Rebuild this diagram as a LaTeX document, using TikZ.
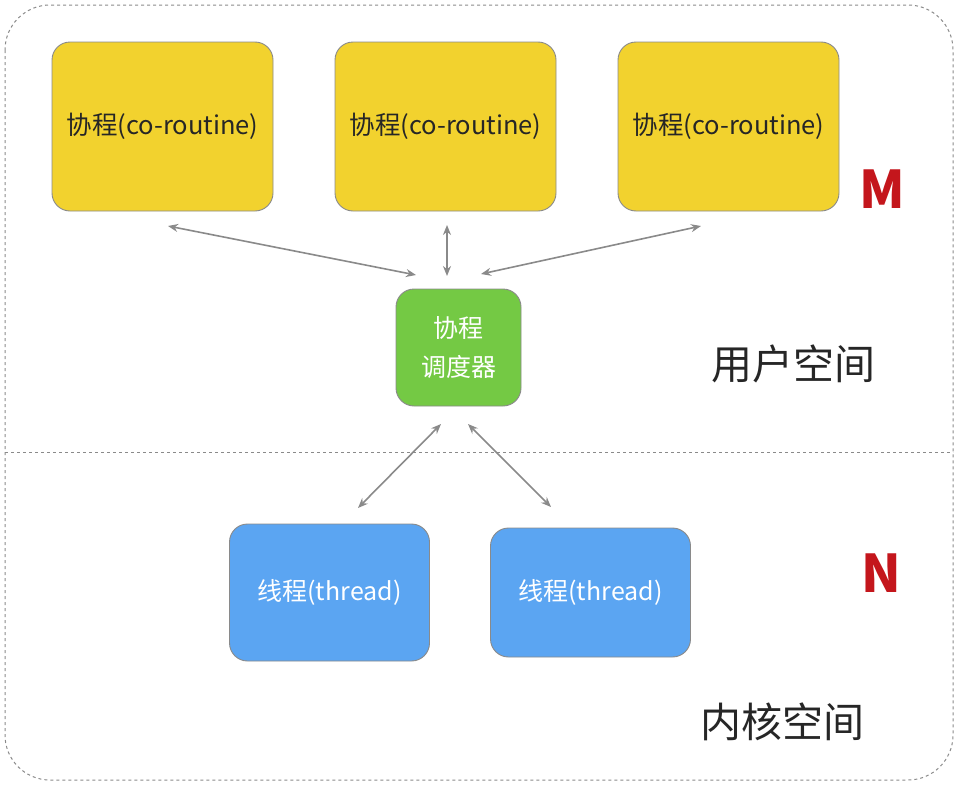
\documentclass[tikz,border=0pt]{standalone}
\usepackage{fontspec}
\setmainfont{Noto Sans CJK SC}
\usetikzlibrary{arrows.meta}
\definecolor{ylw}{HTML}{F2D22E}
\definecolor{grn}{HTML}{74C944}
\definecolor{blu}{HTML}{5BA5F2}
\definecolor{edge}{HTML}{8A8A8A}
\definecolor{mred}{HTML}{C4161C}
\tikzset{
  x=1pt,y=-1pt,
  box/.style={draw=edge,line width=0.9pt,rounded corners=18pt,inner sep=0pt},
  cobox/.style={box,fill=ylw,minimum width=221pt,minimum height=169pt,font=\fontsize{25.5}{30}\selectfont,text=black!85},
  thbox/.style={box,fill=blu,minimum width=200pt,font=\fontsize{25}{30}\selectfont,text=white},
  schbox/.style={box,fill=grn,minimum width=125pt,minimum height=117pt,font=\fontsize{25}{39}\selectfont,text=white,align=center},
  conn/.style={draw=edge,line width=1.6pt,{Stealth[length=10pt,width=8pt]}-{Stealth[length=10pt,width=8pt]}},
  big/.style={font=\fontsize{41}{46}\selectfont,text=black!85},
  letter/.style={font=\fontsize{52}{56}\selectfont\bfseries,text=mred}
}
\begin{document}
\begin{tikzpicture}
\useasboundingbox (0,0) rectangle (957,787);
\draw[edge,dash pattern=on 3pt off 3pt,line width=1pt,rounded corners=45pt] (5,5) rectangle (953,780);
\draw[edge,dash pattern=on 3pt off 3pt,line width=1pt] (5,452) -- (953,452);

\node[cobox] (c1) at (162.5,126.5) {协程(co-routine)};
\node[cobox] (c2) at (445.5,126.5) {协程(co-routine)};
\node[cobox] (c3) at (728.5,126.5) {协程(co-routine)};
\node[schbox] (s) at (458.5,347.5) {协程\\调度器};
\node[thbox,minimum height=137pt] (t1) at (329.5,592.5) {线程(thread)};
\node[thbox,minimum height=129pt] (t2) at (590.5,592.5) {线程(thread)};

\coordinate (a1s) at (168,226); \coordinate (a1e) at (416,275);
\coordinate (a2s) at (447,225); \coordinate (a2e) at (447,276);
\coordinate (a3s) at (701,226); \coordinate (a3e) at (481,274);
\coordinate (b1s) at (441,424); \coordinate (b1e) at (358,508);
\coordinate (b2s) at (468,424); \coordinate (b2e) at (551,507);
\draw[conn] (a1s) -- (a1e);
\draw[conn] (a2s) -- (a2e);
\draw[conn] (a3s) -- (a3e);
\draw[conn] (b1s) -- (b1e);
\draw[conn] (b2s) -- (b2e);

\node[letter] (m) at (882,189) {M};
\node[letter] (n) at (881,573) {N};
\node[big] (u) at (793,364) {用户空间};
\node[big] (k) at (782,722) {内核空间};
\end{tikzpicture}
\end{document}
